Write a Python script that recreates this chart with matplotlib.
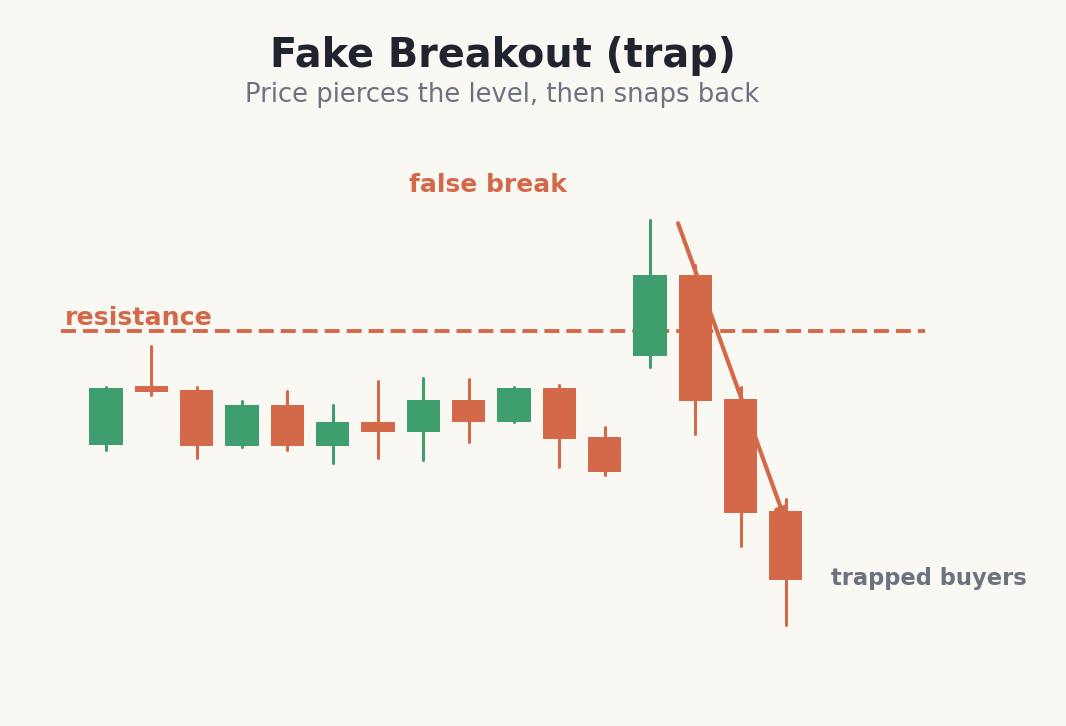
import numpy as np
import matplotlib
matplotlib.use("Agg")
import matplotlib.pyplot as plt
from matplotlib.patches import Rectangle

# candle data (open, high, low, close), resistance level at 100
opens  = [80.0, 90.35, 89.6, 79.9, 87.0, 79.9, 84.0, 82.3, 87.9, 84.1, 90.0, 81.4, 95.7, 109.8, 88.1, 68.4]
highs  = [90.2, 97.4, 90.2, 87.7, 89.4, 87.1, 91.2, 91.7, 91.5, 90.1, 90.6, 83.1, 119.5, 111.6, 90.1, 70.5]
lows   = [79.2, 88.7, 77.7, 79.6, 79.1, 76.8, 77.8, 77.3, 80.5, 84.0, 76.1, 74.7, 93.7, 81.9, 62.3, 48.4]
closes = [90.0, 89.35, 79.9, 87.0, 79.9, 84.0, 82.3, 87.9, 84.1, 90.0, 81.1, 75.3, 109.8, 87.8, 68.1, 56.4]
resistance = 100.0
arrow_start = (12.62, 118.9)
arrow_end = (15.0, 66.5)

bg = "#faf8f3"
green = "#3f9e6e"
red = "#d4694a"
dark = "#1f242e"
grey = "#6b7280"

fig = plt.figure(figsize=(10.66, 7.26), dpi=100, facecolor=bg)
ax = fig.add_axes([0, 0, 1, 1])
ax.set_facecolor(bg)
ax.set_xlim(-106 / 45.33, (1066 - 106) / 45.33)
ax.set_ylim(100 - 395 / 5.7, 100 + 331 / 5.7)
ax.axis("off")

# resistance line
ax.plot([-1.0, 18.06], [resistance, resistance], color=red, lw=2.8,
        dashes=(3.85, 1.8), solid_capstyle="butt", dash_capstyle="butt", zorder=2)

# arrow (behind candles)
ax.annotate("", xy=arrow_end, xytext=arrow_start,
            arrowprops=dict(arrowstyle="-|>", color=red, lw=3.0,
                            mutation_scale=18, shrinkA=0, shrinkB=0),
            zorder=3)

w = 0.73
for i in range(len(opens)):
    o, h, l, c = opens[i], highs[i], lows[i], closes[i]
    col = green if c >= o else red
    ax.plot([i, i], [l, h], color=col, lw=2.2, solid_capstyle="round", zorder=4)
    ax.add_patch(Rectangle((i - w / 2, min(o, c)), w, abs(c - o),
                           facecolor=col, edgecolor="none", zorder=5))

fig.text(0.4714, 0.908, "Fake Breakout (trap)", ha="center", va="baseline",
         fontsize=28.6, fontweight="bold", color=dark)
fig.text(0.4714, 0.860, "Price pierces the level, then snaps back", ha="center", va="baseline",
         fontsize=18.6, color=grey)
fig.text(0.4578, 0.736, "false break", ha="center", va="baseline",
         fontsize=18, fontweight="bold", color=red)
fig.text(0.061, 0.5523, "resistance", ha="left", va="baseline",
         fontsize=18.2, fontweight="bold", color=red)
fig.text(0.7795, 0.194, "trapped buyers", ha="left", va="baseline",
         fontsize=16.3, fontweight="bold", color=grey)

fig.savefig("out.png", dpi=100, facecolor=bg)
